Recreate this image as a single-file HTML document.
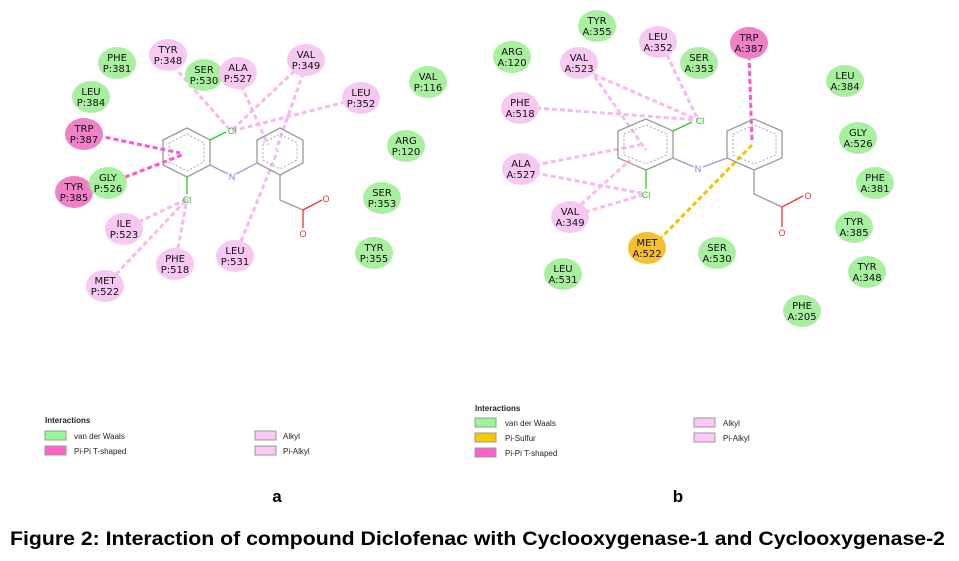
<!DOCTYPE html>
<html><head><meta charset="utf-8"><style>
body{margin:0;background:#fff}
svg{display:block}
.n text{font-family:"DejaVu Sans","Liberation Sans",sans-serif;font-size:10px;fill:#111;text-anchor:middle}
.lg{font-family:"Liberation Sans",sans-serif;font-size:8px;fill:#222}
.G{fill:#a8f0a0}.P{fill:#f7c8f2}.M{fill:#f080c8}.Y{fill:#f5c030}
</style></head><body>
<svg width="959" height="561" viewBox="0 0 959 561" xmlns="http://www.w3.org/2000/svg">
<g fill="none" stroke-width="3" stroke-dasharray="5,3">
<g stroke="#f9b8f0">
<line x1="168" y1="60" x2="230" y2="130"/>
<line x1="306" y1="60" x2="232" y2="130"/>
<line x1="238" y1="78" x2="268" y2="145"/>
<line x1="306" y1="65" x2="276" y2="150"/>
<line x1="361" y1="98" x2="232" y2="131"/>
<line x1="235" y1="256" x2="278" y2="150"/>
<line x1="124" y1="229" x2="187" y2="199"/>
<line x1="105" y1="286" x2="187" y2="199"/>
<line x1="175" y1="264" x2="187" y2="199"/>
</g>
<g stroke="#ff55cc">
<line x1="90" y1="134" x2="180" y2="153"/>
<line x1="110" y1="183" x2="182" y2="155"/>
</g>
</g>
<g fill="none" stroke-width="3" stroke-dasharray="5,3">
<g stroke="#f9b8f0">
<line x1="579" y1="68" x2="698" y2="120"/>
<line x1="590" y1="70" x2="646" y2="150"/>
<line x1="667" y1="55" x2="698" y2="120"/>
<line x1="536" y1="108" x2="698" y2="120"/>
<line x1="535" y1="165" x2="640" y2="145"/>
<line x1="535" y1="173" x2="646" y2="194"/>
<line x1="575" y1="210" x2="630" y2="160"/>
<line x1="585" y1="212" x2="646" y2="194"/>
</g>
<line x1="749" y1="55" x2="752" y2="140" stroke="#ff55cc"/>
<line x1="659" y1="240" x2="752" y2="145" stroke="#f5c000"/>
</g>
<g fill="none" stroke="#999" stroke-width="1.3">
<polygon points="163,140 187,128 210,140 210,165 187,177 163,165"/>
<polygon points="257,140 280,128 303,140 303,163 280,175 257,163"/>
<polyline points="280,175 280,200 303,210"/>
<polygon points="618,131 646,119 673,131 673,158 646,170 618,158"/>
<polygon points="727,131 754,119 782,131 782,158 754,170 727,158"/>
<polyline points="754,170 754,194 782,207"/>
</g>
<g fill="none" stroke="#aaa" stroke-width="1" stroke-dasharray="2,2">
<polygon points="169,143 187,134 204,143 204,162 187,171 169,162"/>
<polygon points="263,143 280,134 297,143 297,160 280,169 263,160"/>
<polygon points="624,134 646,125 667,134 667,155 646,164 624,155"/>
<polygon points="733,134 754,125 776,134 776,155 754,164 733,155"/>
</g>
<g stroke-width="1.3">
<line x1="210" y1="140" x2="226" y2="132" stroke="#2c2"/>
<line x1="187" y1="177" x2="187" y2="194" stroke="#2c2"/>
<line x1="210" y1="165" x2="228" y2="174" stroke="#99d"/>
<line x1="236" y1="174" x2="257" y2="163" stroke="#99d"/>
<line x1="303" y1="210" x2="322" y2="200" stroke="#e33"/>
<line x1="303" y1="210" x2="303" y2="228" stroke="#e33"/>
<line x1="673" y1="131" x2="692" y2="122" stroke="#2c2"/>
<line x1="646" y1="170" x2="646" y2="189" stroke="#2c2"/>
<line x1="673" y1="158" x2="694" y2="167" stroke="#99d"/>
<line x1="703" y1="167" x2="727" y2="158" stroke="#99d"/>
<line x1="782" y1="207" x2="803" y2="196" stroke="#e33"/>
<line x1="782" y1="207" x2="782" y2="227" stroke="#e33"/>
</g>
<g font-family="Liberation Sans,sans-serif" font-size="9" text-anchor="middle">
<text x="232" y="134" fill="#2c2">Cl</text><text x="187" y="203" fill="#2c2">Cl</text>
<text x="232" y="180" fill="#77c">N</text>
<text x="326" y="202" fill="#e33">O</text><text x="303" y="237" fill="#e33">O</text>
<text x="700" y="124" fill="#2c2">Cl</text><text x="646" y="198" fill="#2c2">Cl</text>
<text x="698" y="172" fill="#77c">N</text>
<text x="808" y="199" fill="#e33">O</text><text x="782" y="236" fill="#e33">O</text>
</g>
<g class="n">
<ellipse class="G" cx="117" cy="63" rx="19" ry="16"/><text x="117" y="61">PHE</text><text x="117" y="72">P:381</text>
<ellipse class="P" cx="168" cy="55" rx="19" ry="16"/><text x="168" y="53">TYR</text><text x="168" y="64">P:348</text>
<ellipse class="G" cx="204" cy="75" rx="19" ry="16"/><text x="204" y="73">SER</text><text x="204" y="84">P:530</text>
<ellipse class="P" cx="238" cy="73" rx="19" ry="16"/><text x="238" y="71">ALA</text><text x="238" y="82">P:527</text>
<ellipse class="P" cx="306" cy="60" rx="19" ry="16"/><text x="306" y="58">VAL</text><text x="306" y="69">P:349</text>
<ellipse class="P" cx="361" cy="98" rx="19" ry="16"/><text x="361" y="96">LEU</text><text x="361" y="107">P:352</text>
<ellipse class="G" cx="428" cy="82" rx="19" ry="16"/><text x="428" y="80">VAL</text><text x="428" y="91">P:116</text>
<ellipse class="G" cx="91" cy="97" rx="19" ry="16"/><text x="91" y="95">LEU</text><text x="91" y="106">P:384</text>
<ellipse class="M" cx="84" cy="134" rx="19" ry="16"/><text x="84" y="132">TRP</text><text x="84" y="143">P:387</text>
<ellipse class="G" cx="406" cy="146" rx="19" ry="16"/><text x="406" y="144">ARG</text><text x="406" y="155">P:120</text>
<ellipse class="M" cx="74" cy="192" rx="19" ry="16"/><text x="74" y="190">TYR</text><text x="74" y="201">P:385</text>
<ellipse class="G" cx="108" cy="183" rx="19" ry="16"/><text x="108" y="181">GLY</text><text x="108" y="192">P:526</text>
<ellipse class="G" cx="382" cy="198" rx="19" ry="16"/><text x="382" y="196">SER</text><text x="382" y="207">P:353</text>
<ellipse class="P" cx="124" cy="229" rx="19" ry="16"/><text x="124" y="227">ILE</text><text x="124" y="238">P:523</text>
<ellipse class="P" cx="235" cy="256" rx="19" ry="16"/><text x="235" y="254">LEU</text><text x="235" y="265">P:531</text>
<ellipse class="G" cx="374" cy="253" rx="19" ry="16"/><text x="374" y="251">TYR</text><text x="374" y="262">P:355</text>
<ellipse class="P" cx="175" cy="264" rx="19" ry="16"/><text x="175" y="262">PHE</text><text x="175" y="273">P:518</text>
<ellipse class="P" cx="105" cy="286" rx="19" ry="16"/><text x="105" y="284">MET</text><text x="105" y="295">P:522</text>

<ellipse class="G" cx="597" cy="26" rx="19" ry="16"/><text x="597" y="24">TYR</text><text x="597" y="35">A:355</text>
<ellipse class="P" cx="658" cy="42" rx="19" ry="16"/><text x="658" y="40">LEU</text><text x="658" y="51">A:352</text>
<ellipse class="M" cx="749" cy="43" rx="19" ry="16"/><text x="749" y="41">TRP</text><text x="749" y="52">A:387</text>
<ellipse class="G" cx="512" cy="57" rx="19" ry="16"/><text x="512" y="55">ARG</text><text x="512" y="66">A:120</text>
<ellipse class="P" cx="579" cy="63" rx="19" ry="16"/><text x="579" y="61">VAL</text><text x="579" y="72">A:523</text>
<ellipse class="G" cx="699" cy="63" rx="19" ry="16"/><text x="699" y="61">SER</text><text x="699" y="72">A:353</text>
<ellipse class="G" cx="845" cy="81" rx="19" ry="16"/><text x="845" y="79">LEU</text><text x="845" y="90">A:384</text>
<ellipse class="P" cx="520" cy="108" rx="19" ry="16"/><text x="520" y="106">PHE</text><text x="520" y="117">A:518</text>
<ellipse class="G" cx="858" cy="138" rx="19" ry="16"/><text x="858" y="136">GLY</text><text x="858" y="147">A:526</text>
<ellipse class="P" cx="521" cy="169" rx="19" ry="16"/><text x="521" y="167">ALA</text><text x="521" y="178">A:527</text>
<ellipse class="G" cx="875" cy="183" rx="19" ry="16"/><text x="875" y="181">PHE</text><text x="875" y="192">A:381</text>
<ellipse class="P" cx="570" cy="217" rx="19" ry="16"/><text x="570" y="215">VAL</text><text x="570" y="226">A:349</text>
<ellipse class="G" cx="854" cy="227" rx="19" ry="16"/><text x="854" y="225">TYR</text><text x="854" y="236">A:385</text>
<ellipse class="Y" cx="647" cy="248" rx="19" ry="16"/><text x="647" y="246">MET</text><text x="647" y="257">A:522</text>
<ellipse class="G" cx="717" cy="253" rx="19" ry="16"/><text x="717" y="251">SER</text><text x="717" y="262">A:530</text>
<ellipse class="G" cx="563" cy="274" rx="19" ry="16"/><text x="563" y="272">LEU</text><text x="563" y="283">A:531</text>
<ellipse class="G" cx="867" cy="272" rx="19" ry="16"/><text x="867" y="270">TYR</text><text x="867" y="281">A:348</text>
<ellipse class="G" cx="802" cy="311" rx="19" ry="16"/><text x="802" y="309">PHE</text><text x="802" y="320">A:205</text>
</g>
<g class="lg">
<text x="45" y="423" font-weight="bold">Interactions</text>
<rect x="45" y="431" width="21" height="9" fill="#98f898" stroke="#999"/><text x="74" y="439">van der Waals</text>
<rect x="45" y="446" width="21" height="9" fill="#ff60c8" stroke="#999"/><text x="74" y="454">Pi-Pi T-shaped</text>
<rect x="255" y="431" width="21" height="9" fill="#fcc8f4" stroke="#999"/><text x="283" y="439">Alkyl</text>
<rect x="255" y="446" width="21" height="9" fill="#fcc8f4" stroke="#999"/><text x="283" y="454">Pi-Alkyl</text>
<text x="475" y="411" font-weight="bold">Interactions</text>
<rect x="475" y="418" width="21" height="9" fill="#98f898" stroke="#999"/><text x="505" y="426">van der Waals</text>
<rect x="475" y="433" width="21" height="9" fill="#f8c800" stroke="#999"/><text x="505" y="441">Pi-Sulfur</text>
<rect x="475" y="448" width="21" height="9" fill="#ff60c8" stroke="#999"/><text x="505" y="456">Pi-Pi T-shaped</text>
<rect x="694" y="418" width="21" height="9" fill="#fcc8f4" stroke="#999"/><text x="723" y="426">Alkyl</text>
<rect x="694" y="433" width="21" height="9" fill="#fcc8f4" stroke="#999"/><text x="723" y="441">Pi-Alkyl</text>
</g>
<g font-family="Liberation Sans,sans-serif" font-weight="bold" fill="#000">
<text x="277" y="502" font-size="17" text-anchor="middle">a</text>
<text x="678" y="502" font-size="17" text-anchor="middle">b</text>
<text x="10" y="545" font-size="19" textLength="935" lengthAdjust="spacingAndGlyphs">Figure 2: Interaction of compound Diclofenac with Cyclooxygenase-1 and Cyclooxygenase-2</text>
</g>
</svg>
</body></html>
